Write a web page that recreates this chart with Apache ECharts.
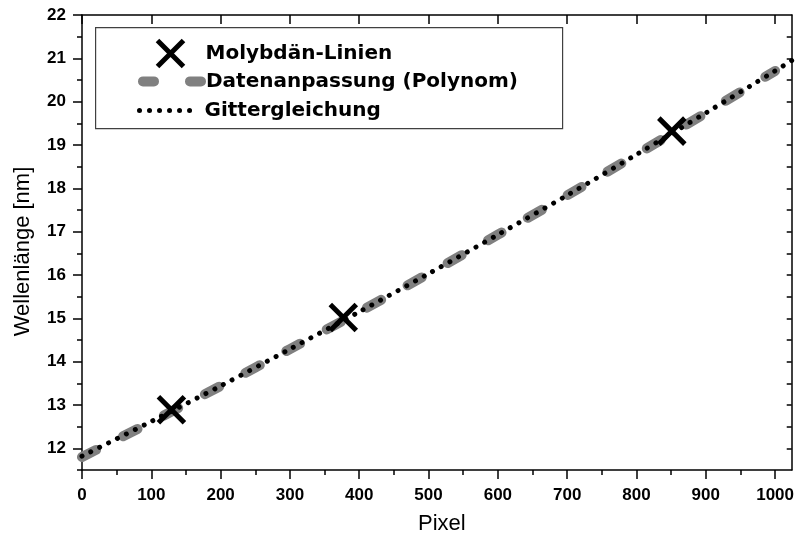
<!DOCTYPE html>
<html>
<head>
<meta charset="utf-8">
<script src="https://cdn.jsdelivr.net/npm/echarts@6/dist/echarts.min.js"></script>
<style>
  html, body { margin: 0; padding: 0; background: #fff; }
  #chart { width: 797px; height: 540px; }
</style>
</head>
<body>
<div id="chart"></div>
<script>
// Molybdenum emission lines located on the detector (pixel, wavelength in nm)
const moPixel = [129, 377, 851];
const moWavelength = [12.89, 15.02, 19.32];

// Polynomial calibration curve
const fitPixel = [0, 100, 200, 300, 400, 500, 600, 700, 800, 900, 1000];
const fitWavelength = [11.80, 12.61, 13.44, 14.29, 15.15, 16.03, 16.93, 17.84, 18.78, 19.74, 20.71];

// Grating equation
const gratingPixel = [0, 100, 200, 300, 400, 500, 600, 700, 800, 900, 1000, 1024];
const gratingWavelength = [11.82, 12.62, 13.44, 14.29, 15.15, 16.03, 16.93, 17.84, 18.78, 19.74, 20.71, 20.95];

// Axis ranges and tick positions
const pixelRange = [0, 1024];
const wavelengthRange = [11.5, 22];
const pixelTicks = [0, 100, 200, 300, 400, 500, 600, 700, 800, 900, 1000];
const pixelMinorTicks = [50, 150, 250, 350, 450, 550, 650, 750, 850, 950];
const wavelengthTicks = [12, 13, 14, 15, 16, 17, 18, 19, 20, 21, 22];
const wavelengthMinorTicks = [11.5, 12.5, 13.5, 14.5, 15.5, 16.5, 17.5, 18.5, 19.5, 20.5, 21.5];
const wavelengthRightTicks = [12, 12.5, 13, 13.5, 14, 14.5, 15, 15.5, 16, 16.5, 17, 17.5, 18, 18.5, 19, 19.5, 20, 20.5, 21, 21.5];

const names = {
  mo: 'Molybdän-Linien',
  fit: 'Datenanpassung (Polynom)',
  grating: 'Gittergleichung'
};

const zip = (xs, ys) => xs.map((x, i) => [x, ys[i]]);

const AXIS_COLOR = '#000';
const labelFont = { fontFamily: 'Liberation Sans, Arial, sans-serif', fontWeight: 'bold', fontSize: 17, color: '#000' };
const nameFont = { fontFamily: 'Liberation Sans, Arial, sans-serif', fontSize: 22, color: '#000' };
const legendFont = { fontFamily: 'DejaVu Sans, sans-serif', fontWeight: 'bold', fontSize: 20, color: '#000' };
const plainNumber = (v) => String(v);

function tickAxis(base, extra) {
  return Object.assign({
    min: base[0], max: base[1],
    splitLine: { show: false },
    axisLine: { show: false },
    axisLabel: { show: false },
    axisTick: { show: false }
  }, extra);
}

const chart = echarts.init(document.getElementById('chart'), null, { renderer: 'canvas' });

chart.setOption({
  animation: false,
  backgroundColor: '#fff',
  grid: { left: 82, right: 5, top: 15, bottom: 66, containLabel: false },
  xAxis: [
    tickAxis(pixelRange, {
      type: 'value', position: 'bottom',
      name: 'Pixel', nameLocation: 'middle', nameGap: 43,
      nameTextStyle: Object.assign({ padding: [0, 0, 0, 10] }, nameFont),
      axisLine: { show: true, onZero: false, lineStyle: { color: AXIS_COLOR, width: 1.5 } },
      axisTick: { show: true, length: 9, customValues: pixelTicks, lineStyle: { color: AXIS_COLOR, width: 1.5 } },
      axisLabel: Object.assign({ show: true, margin: 17, customValues: pixelTicks, formatter: plainNumber }, labelFont)
    }),
    tickAxis(pixelRange, {
      type: 'value', position: 'bottom',
      axisTick: { show: true, length: 5, customValues: pixelMinorTicks, lineStyle: { color: AXIS_COLOR, width: 1.5 } }
    }),
    tickAxis(pixelRange, {
      type: 'value', position: 'top',
      axisLine: { show: true, onZero: false, lineStyle: { color: AXIS_COLOR, width: 1.5 } },
      axisTick: { show: true, inside: true, length: 9, customValues: pixelTicks, lineStyle: { color: AXIS_COLOR, width: 1.5 } }
    })
  ],
  yAxis: [
    tickAxis(wavelengthRange, {
      type: 'value', position: 'left',
      name: 'Wellenlänge [nm]', nameLocation: 'middle', nameGap: 48, nameRotate: 90,
      nameTextStyle: Object.assign({ padding: [0, 18, 0, 0] }, nameFont),
      axisLine: { show: true, onZero: false, lineStyle: { color: AXIS_COLOR, width: 1.5 } },
      axisTick: { show: true, length: 9, customValues: wavelengthTicks, lineStyle: { color: AXIS_COLOR, width: 1.5 } },
      axisLabel: Object.assign({ show: true, margin: 16, customValues: wavelengthTicks, formatter: plainNumber }, labelFont)
    }),
    tickAxis(wavelengthRange, {
      type: 'value', position: 'left',
      axisTick: { show: true, length: 5, customValues: wavelengthMinorTicks, lineStyle: { color: AXIS_COLOR, width: 1.5 } }
    }),
    tickAxis(wavelengthRange, {
      type: 'value', position: 'right',
      axisLine: { show: true, onZero: false, lineStyle: { color: AXIS_COLOR, width: 1.5 } },
      axisTick: { show: true, inside: true, length: 5, customValues: wavelengthRightTicks, lineStyle: { color: AXIS_COLOR, width: 1.5 } }
    })
  ],
  legend: [
    {
      data: [names.mo], left: 155, top: 38, padding: 0, orient: 'vertical',
      itemWidth: 60, itemHeight: 26, selectedMode: false, textStyle: legendFont,
      itemStyle: { borderWidth: 5, borderColor: '#000', color: '#000', opacity: 1 }
    },
    {
      data: [names.fit], left: 138, top: 71, padding: 0, orient: 'vertical',
      itemWidth: 58, itemHeight: 26, selectedMode: false, textStyle: legendFont,
      itemStyle: { color: 'transparent', borderWidth: 0, opacity: 0 },
      lineStyle: { width: 10, color: '#808080', type: [11, 36], cap: 'round' }
    },
    {
      data: [names.grating], left: 137, top: 100, padding: 0, orient: 'vertical',
      itemWidth: 60, itemHeight: 26, selectedMode: false, textStyle: legendFont,
      itemStyle: { color: 'transparent', borderWidth: 0, opacity: 0 },
      lineStyle: { width: 5, color: '#000', type: [0.01, 10], cap: 'round' }
    }
  ],
  graphic: [
    {
      type: 'rect', left: 95, top: 27, z: 0, silent: true,
      shape: { width: 467, height: 101 },
      style: { fill: '#fff', stroke: '#404040', lineWidth: 1.2 }
    }
  ],
  series: [
    {
      name: names.fit, type: 'line', xAxisIndex: 0, yAxisIndex: 0,
      data: zip(fitPixel, fitWavelength), showSymbol: false, symbol: 'none', smooth: 0.3,
      lineStyle: { color: '#808080', width: 10, type: [16, 30], cap: 'round' },
      itemStyle: { color: '#808080' }, z: 2
    },
    {
      name: names.grating, type: 'line', xAxisIndex: 0, yAxisIndex: 0,
      data: zip(gratingPixel, gratingWavelength), showSymbol: false, symbol: 'none', smooth: 0.3,
      lineStyle: { color: '#000', width: 5, type: [0.01, 9.9], cap: 'round' },
      itemStyle: { color: '#000' }, z: 3
    },
    {
      name: names.mo, type: 'scatter', xAxisIndex: 0, yAxisIndex: 0,
      data: zip(moPixel, moWavelength),
      symbol: 'path://M0,0L20,20M20,0L0,20', symbolSize: 26,
      itemStyle: { color: '#000', borderColor: '#000', borderWidth: 5, opacity: 1 }, z: 4
    }
  ]
});
</script>
</body>
</html>
